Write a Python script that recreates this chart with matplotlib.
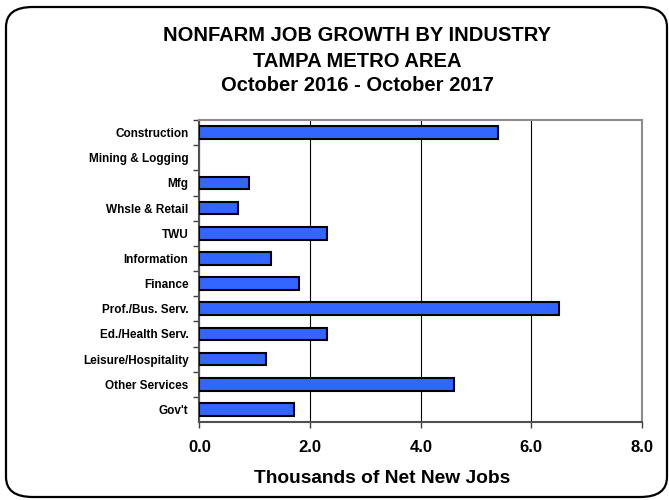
import matplotlib
matplotlib.use("Agg")
import matplotlib.pyplot as plt
from matplotlib.patches import FancyBboxPatch

plt.rcParams['font.family'] = ['Liberation Sans', 'DejaVu Sans']

industries = ["Construction", "Mining & Logging", "Mfg", "Whsle & Retail", "TWU",
              "Information", "Finance", "Prof./Bus. Serv.", "Ed./Health Serv.",
              "Leisure/Hospitality", "Other Services", "Gov't"]
jobs = [5.4, 0.0, 0.9, 0.7, 2.3, 1.3, 1.8, 6.5, 2.3, 1.2, 4.6, 1.7]
xticks = [0, 2, 4, 6, 8]
xtick_labels = ["0.0", "2.0", "4.0", "6.0", "8.0"]

W, H = 669, 500
fig = plt.figure(figsize=(W / 100, H / 100), dpi=100)

# rounded outer frame
frame = FancyBboxPatch((6 / W, 3 / H), 661 / W, 490 / H,
                       boxstyle="round,pad=0,rounding_size=0.04",
                       transform=fig.transFigure, facecolor='none',
                       edgecolor='black', linewidth=1.6, zorder=-1)
fig.patches.append(frame)

ax = fig.add_axes([199.5 / W, 1 - 422 / H, 442.5 / W, 302 / H])
ax.set_facecolor('none')

pos = list(range(len(industries)))
edge_w = [1.5 if v > 0 else 0 for v in jobs]
ax.barh(pos, jobs, height=0.5, color='#3366FF', edgecolor='black',
        linewidth=edge_w, zorder=3)

ax.set_xlim(0, 8)
ax.set_ylim(len(industries) - 0.5, -0.5)
ax.set_xticks(xticks)
ax.set_xticklabels(xtick_labels, fontsize=12, fontweight='bold')
ax.set_yticks(pos)
ax.set_yticklabels(industries, fontsize=8.5, fontweight='bold')
ax.tick_params(axis='y', length=0, pad=8)
ax.set_yticks([p + 0.5 for p in pos[:-1]] + [-0.5], minor=True)
ax.tick_params(axis='y', which='minor', length=4, width=1, color='#404040')
ax.tick_params(axis='x', length=4, width=1, color='#404040', pad=9)

ax.grid(axis='x', color='black', linewidth=0.8, zorder=1)
ax.set_axisbelow(True)
for s in ['top', 'right']:
    ax.spines[s].set_color('#8c8c8c')
    ax.spines[s].set_linewidth(1.5)
for s in ['left', 'bottom']:
    ax.spines[s].set_color('#505050')
    ax.spines[s].set_linewidth(1.5)

fig.text(382 / W, 1 - 483 / H, "Thousands of Net New Jobs", ha='center',
         va='baseline', fontsize=13.8, fontweight='bold')

title_x = 357 / W
fig.text(title_x, 1 - 40.7 / H, "NONFARM JOB GROWTH BY INDUSTRY", ha='center',
         va='baseline', fontsize=14.5, fontweight='bold')
fig.text(title_x, 1 - 66.7 / H, "TAMPA METRO AREA", ha='center',
         va='baseline', fontsize=14.5, fontweight='bold')
fig.text(title_x, 1 - 90.7 / H, "October 2016 - October 2017", ha='center',
         va='baseline', fontsize=14.5, fontweight='bold')

fig.savefig("out.png", dpi=100)
